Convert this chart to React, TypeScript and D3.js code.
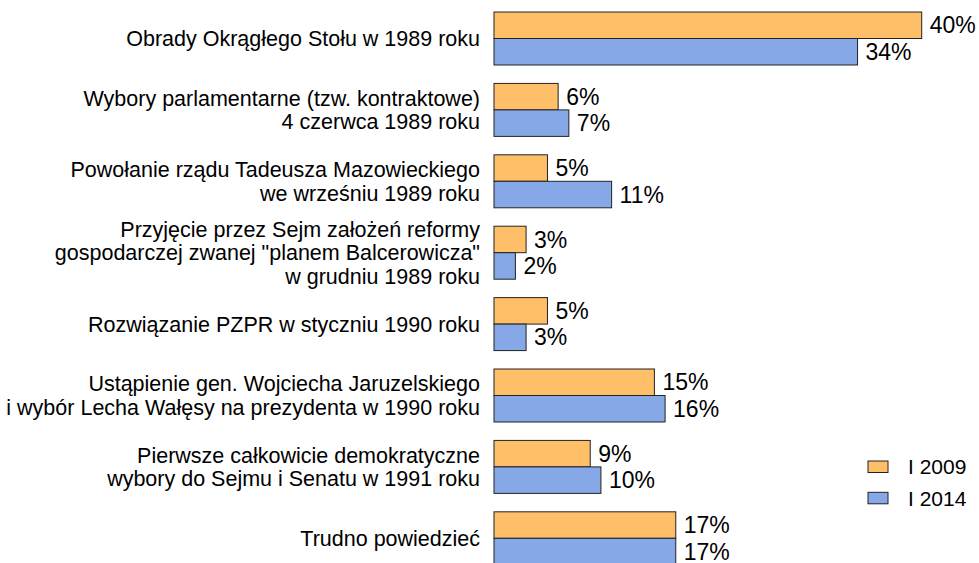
import React from 'react';
import * as d3 from 'd3';

// category labels, one array entry per line
const categories: string[][] = [
  ['Obrady Okrągłego Stołu w 1989 roku'],
  ['Wybory parlamentarne (tzw. kontraktowe)', '4 czerwca 1989 roku'],
  ['Powołanie rządu Tadeusza Mazowieckiego', 'we wrześniu 1989 roku'],
  ['Przyjęcie przez Sejm założeń reformy', 'gospodarczej zwanej "planem Balcerowicza"', 'w grudniu 1989 roku'],
  ['Rozwiązanie PZPR w styczniu 1990 roku'],
  ['Ustąpienie gen. Wojciecha Jaruzelskiego', 'i wybór Lecha Wałęsy na prezydenta w 1990 roku'],
  ['Pierwsze całkowicie demokratyczne', 'wybory do Sejmu i Senatu w 1991 roku'],
  ['Trudno powiedzieć'],
];

const values2009 = [40, 6, 5, 3, 5, 15, 9, 17];
const values2014 = [34, 7, 11, 2, 3, 16, 10, 17];

const seriesNames = ['I 2009', 'I 2014'];
const seriesColors = ['#FFBF69', '#86A8E6'];

const App = () => {
  const width = 979;
  const height = 563;
  const x0 = 494;
  const font = 'Arial, "Liberation Sans", sans-serif';

  const x = d3.scaleLinear().domain([0, 40]).range([x0, 921.7]);

  const keys = categories.map((_, i) => String(i));
  const y = d3
    .scaleBand()
    .domain(keys)
    .range([2.8, 2.8 + 71.4 * 8])
    .paddingInner(0.258)
    .paddingOuter(0.129);

  const inner = d3.scaleBand().domain(['0', '1']).range([0, y.bandwidth()]);

  const series = [values2009, values2014];

  return (
    <svg width={width} height={height} style={{ position: 'absolute', left: 0, top: 0 }}>
      <rect width={width} height={height} fill="#fff" />
      {categories.map((lines, i) => {
        const cy = (y(String(i)) as number) + y.bandwidth() / 2;
        const lh = 23.5;
        const start = cy - ((lines.length - 1) * lh) / 2;
        return (
          <g key={i}>
            <text
              x={480}
              textAnchor="end"
              fontFamily={font}
              fontSize={21.5}
              fill="#000"
            >
              {lines.map((l, j) => (
                <tspan key={j} x={480} y={start + j * lh} dy="0.35em">
                  {l}
                </tspan>
              ))}
            </text>
            {series.map((vals, s) => {
              const by = (y(String(i)) as number) + (inner(String(s)) as number);
              const bh = inner.bandwidth();
              return (
                <g key={s}>
                  <rect
                    x={x(0)}
                    y={by}
                    width={x(vals[i]) - x(0)}
                    height={bh}
                    fill={seriesColors[s]}
                    stroke="#222"
                    strokeWidth={1}
                  />
                  <text
                    x={x(vals[i]) + 8}
                    y={by + bh / 2}
                    dy="0.35em"
                    fontFamily={font}
                    fontSize={23}
                    fill="#000"
                  >
                    {vals[i] + '%'}
                  </text>
                </g>
              );
            })}
          </g>
        );
      })}
      {seriesNames.map((name, s) => (
        <g key={name} transform={`translate(868, ${461 + s * 31.3})`}>
          <rect width={20} height={11.5} fill={seriesColors[s]} stroke="#222" strokeWidth={1} />
          <text x={40} y={6} dy="0.35em" fontFamily={font} fontSize={21} fill="#000">
            {name}
          </text>
        </g>
      ))}
    </svg>
  );
};

export default App;
